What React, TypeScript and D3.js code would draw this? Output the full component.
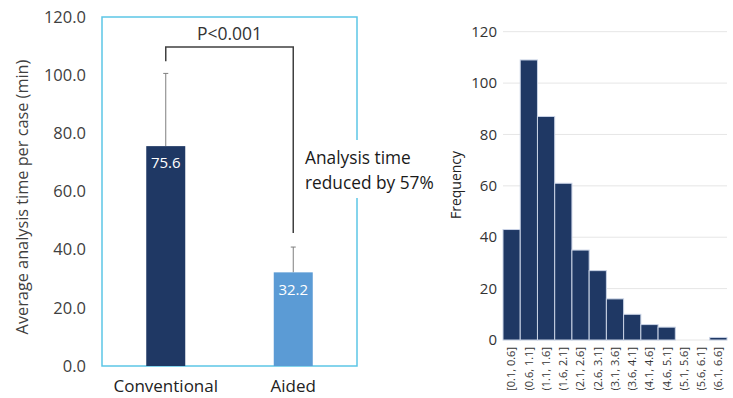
import * as d3 from "d3";

const groups = ["Conventional", "Aided"];
const means = [75.6, 32.2];
const errTop = [100.6, 40.9];
const leftTicks = [0, 20, 40, 60, 80, 100, 120];
const bracketTop = 109.7;
const bracketLegs = [104.8, 45.7];

const bins = [
  "[0.1, 0.6]", "(0.6, 1.1]", "(1.1, 1.6]", "(1.6, 2.1]", "(2.1, 2.6]", "(2.6, 3.1]",
  "(3.1, 3.6]", "(3.6, 4.1]", "(4.1, 4.6]", "(4.6, 5.1]", "(5.1, 5.6]", "(5.6, 6.1]", "(6.1, 6.6]",
];
const freqs = [43, 109, 87, 61, 35, 27, 16, 10, 6, 5, 0, 0, 1];
const rightTicks = [0, 20, 40, 60, 80, 100, 120];

const FONT = "'Open Sans', 'Noto Sans', sans-serif";
const NAVY = "#1f3864";
const LIGHT = "#5b9bd5";

export default function App() {
  // left chart
  const yL = d3.scaleLinear().domain([0, 120]).range([366, 17]);
  const xL = d3.scalePoint<string>().domain(groups).range([102, 357]).padding(0.5);
  const barW = 39;
  const c0 = xL(groups[0])!;
  const c1 = xL(groups[1])!;

  // right chart
  const yR = d3.scaleLinear().domain([0, 120]).range([340, 31.7]);
  const xR = d3.scaleBand<string>().domain(bins).range([503, 727]).padding(0);

  return (
    <svg width={733} height={398} style={{ position: "absolute", left: 0, top: 0, background: "#fff" }} fontFamily={FONT}>
      {/* left panel */}
      <rect x={102} y={17} width={255} height={349} fill="none" stroke="#5cc6e6" strokeWidth={1.5} />
      {leftTicks.map((t) => (
        <text key={t} x={86} y={yL(t)} dy="0.35em" textAnchor="end" fontSize={16.5} fill="#404040">
          {t.toFixed(1)}
        </text>
      ))}
      <text transform={`translate(22,${197}) rotate(-90)`} textAnchor="middle" dy="0.35em" fontSize={16.3} fill="#404040">
        Average analysis time per case (min)
      </text>
      {groups.map((g, i) => (
        <g key={g}>
          <line x1={xL(g)!} x2={xL(g)!} y1={yL(means[i])} y2={yL(errTop[i])} stroke="#7f7f7f" strokeWidth={1} />
          <line x1={xL(g)! - 2.5} x2={xL(g)! + 2.5} y1={yL(errTop[i])} y2={yL(errTop[i])} stroke="#7f7f7f" strokeWidth={1} />
          <rect x={xL(g)! - barW / 2} y={yL(means[i])} width={barW} height={yL(0) - yL(means[i])} fill={i === 0 ? NAVY : LIGHT} />
          <text x={xL(g)!} y={yL(means[i]) + 17} dy="0.35em" textAnchor="middle" fontSize={15} fill="#fff">
            {means[i].toFixed(1)}
          </text>
          <text x={xL(g)!} y={392} textAnchor="middle" fontSize={17} fill="#222">
            {g}
          </text>
        </g>
      ))}
      <path
        d={`M${c0},${yL(bracketLegs[0])}V${yL(bracketTop)}H${c1}V${yL(bracketLegs[1])}`}
        fill="none"
        stroke="#404040"
        strokeWidth={1.5}
      />
      <text x={(c0 + c1) / 2} y={34} dy="0.35em" textAnchor="middle" fontSize={17.5} fill="#333">
        P&lt;0.001
      </text>
      <rect x={300} y={140} width={140} height={58} fill="#fff" />
      <text x={305} y={158} dy="0.35em" fontSize={17.3} fill="#1a1a1a">Analysis time</text>
      <text x={305} y={183} dy="0.35em" fontSize={17.3} fill="#1a1a1a">reduced by 57%</text>

      {/* right panel */}
      {rightTicks.map((t) => (
        <g key={t}>
          <line x1={503} x2={727} y1={yR(t)} y2={yR(t)} stroke="#e6e6e6" strokeWidth={1} />
          <text x={497} y={yR(t)} dy="0.35em" textAnchor="end" fontSize={15} fill="#333">
            {t}
          </text>
        </g>
      ))}
      <text transform={`translate(456,185) rotate(-90)`} textAnchor="middle" dy="0.35em" fontSize={14} fill="#222">
        Frequency
      </text>
      {bins.map((b, i) => (
        <g key={b}>
          {freqs[i] > 0 && (
            <rect
              x={xR(b)!}
              y={yR(freqs[i])}
              width={xR.bandwidth()}
              height={yR(0) - yR(freqs[i])}
              fill={NAVY}
              stroke="#c9d3e6"
              strokeWidth={1}
            />
          )}
          <text
            transform={`translate(${xR(b)! + xR.bandwidth() / 2},347) rotate(-90)`}
            textAnchor="end"
            dy="0.35em"
            fontSize={11}
            fill="#333"
          >
            {b}
          </text>
        </g>
      ))}
    </svg>
  );
}
